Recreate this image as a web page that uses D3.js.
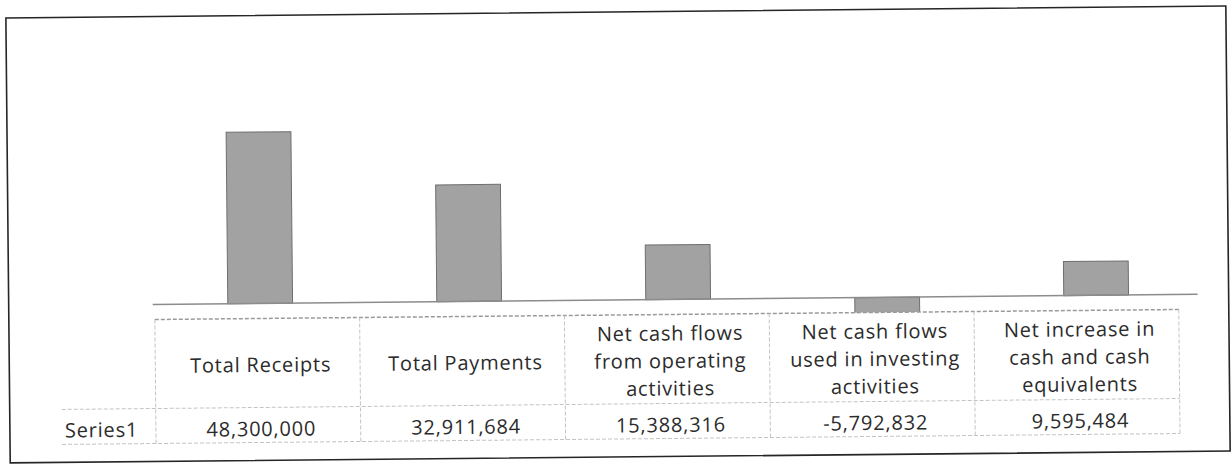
<!DOCTYPE html>
<meta charset="utf-8">
<html>
<head>
<title>Cash flow summary</title>
<script src="https://d3js.org/d3.v7.min.js"></script>
<style>
  body { margin: 0; background: #fff; }
  svg { display: block; }
  .cell text {
      font-family: "Open Sans", Lato, sans-serif;
      font-size: 20px;
      letter-spacing: 0.8px;
      fill: #2b2b2b;
      font-variant-ligatures: none;
  }
  .grid {
      stroke: #c4c4c4;
      stroke-width: 1;
      stroke-dasharray: 4,2;
  }
</style>
</head>
<body>
<svg width="1231" height="464"></svg>

<script>
  // Data
  var categories = ["Total Receipts", "Total Payments",
                    "Net cash flows from operating activities",
                    "Net cash flows used in investing activities",
                    "Net increase in cash and cash equivalents"];
  var seriesName = "Series1";
  var values = [48300000, 32911684, 15388316, -5792832, 9595484];

  var svg = d3.select("svg"),
      width = +svg.attr("width"),
      height = +svg.attr("height");

  // the scan is tilted a little, so everything sits in one rotated group
  var g = svg.append("g")
      .attr("transform", "rotate(-0.56," + width / 2 + "," + height / 2 + ")");

  // outer frame
  g.append("rect")
      .attr("x", 8).attr("y", 12)
      .attr("width", 1220).attr("height", 445)
      .attr("fill", "none")
      .attr("stroke", "#262626")
      .attr("stroke-width", 1.6);

  // scales
  var x = d3.scaleBand()
      .domain(categories)
      .range([155, 1200])
      .paddingInner(0.69)
      .paddingOuter(0.345);
  var y = d3.scaleLinear()
      .domain([-10000000, 50000000])
      .range([335.5, 122.5]);

  var tableTop = 315, rowSplit = 404, tableBottom = 439;
  var col = d3.scaleBand()
      .domain(categories)
      .range([154, 1178]);

  // plot area ends where the data table begins
  svg.append("defs").append("clipPath")
      .attr("id", "plot")
    .append("rect")
      .attr("x", 0).attr("y", 0)
      .attr("width", width).attr("height", tableTop);

  g.append("g")
      .attr("clip-path", "url(#plot)")
      .selectAll("rect")
      .data(values)
      .enter().append("rect")
          .attr("x", function (d, i) { return x(categories[i]); })
          .attr("width", x.bandwidth())
          .attr("y", function (d) { return y(Math.max(0, d)); })
          .attr("height", function (d) { return Math.abs(y(d) - y(0)); })
          .attr("fill", "#a2a2a2")
          .attr("stroke", "#6e6e6e")
          .attr("stroke-width", 1);

  // category axis line at zero
  g.append("line")
      .attr("x1", 152).attr("x2", 1197)
      .attr("y1", y(0)).attr("y2", y(0))
      .attr("stroke", "#8c8c8c")
      .attr("stroke-width", 1.5);

  // data table grid
  var grid = g.append("g").attr("class", "grid");
  grid.append("line")
      .attr("x1", 154).attr("x2", 1178)
      .attr("y1", tableTop).attr("y2", tableTop)
      .style("stroke", "#9a9a9a").style("stroke-width", 1.5);
  [rowSplit, tableBottom].forEach(function (yy) {
      grid.append("line")
          .attr("x1", 60).attr("x2", 1178)
          .attr("y1", yy).attr("y2", yy);
  });
  grid.selectAll("line.v")
      .data(categories.concat([null]))
      .enter().append("line")
          .attr("class", "v")
          .attr("x1", function (d) { return d === null ? 1178 : col(d); })
          .attr("x2", function (d) { return d === null ? 1178 : col(d); })
          .attr("y1", tableTop).attr("y2", tableBottom);

  var fmt = d3.formatLocale({decimal: ".", thousands: ",", grouping: [3],
                             currency: ["", ""], minus: "-"}).format(",");

  var cells = g.append("g").attr("class", "cell");

  // wrap a label to the column width, like the spreadsheet does
  function wrap(text, maxW) {
      var words = text.split(" "), lines = [], cur = "";
      var probe = cells.append("text");
      words.forEach(function (w) {
          var test = cur ? cur + " " + w : w;
          probe.text(test);
          if (cur && probe.node().getComputedTextLength() > maxW) {
              lines.push(cur);
              cur = w;
          } else {
              cur = test;
          }
      });
      lines.push(cur);
      probe.remove();
      return lines;
  }

  var lineH = 27.5, midBase = 368.5;
  categories.forEach(function (c) {
      var lines = wrap(c, col.bandwidth() - 16);
      var cx = col(c) + col.bandwidth() / 2 + 3;
      lines.forEach(function (l, i) {
          cells.append("text")
              .attr("text-anchor", "middle")
              .attr("x", cx)
              .attr("y", midBase + (i - (lines.length - 1) / 2) * lineH)
              .text(l);
      });
  });

  cells.selectAll("text.val")
      .data(values)
      .enter().append("text")
          .attr("class", "val")
          .attr("text-anchor", "middle")
          .attr("x", function (d, i) { return col(categories[i]) + col.bandwidth() / 2 + 3; })
          .attr("y", 432.5)
          .text(function (d) { return fmt(d); });

  cells.append("text")
      .attr("x", 63)
      .attr("y", 432)
      .text(seriesName);
</script>
</body>
</html>
